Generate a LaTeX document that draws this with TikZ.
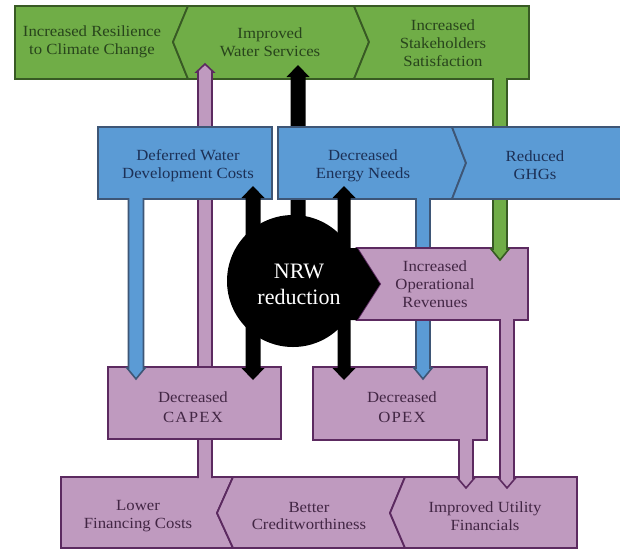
\documentclass[tikz,border=0pt]{standalone}
\usepackage{fontspec}
\setmainfont[FakeStretch=1.08]{Liberation Serif}
\newfontfamily\nrwfont{Liberation Serif}
\definecolor{gfill}{RGB}{112,173,71}
\definecolor{gline}{RGB}{56,90,36}
\definecolor{gtext}{RGB}{40,68,28}
\definecolor{bfill}{RGB}{91,155,213}
\definecolor{bline}{RGB}{62,86,118}
\definecolor{btext}{RGB}{28,48,86}
\definecolor{pfill}{RGB}{191,154,191}
\definecolor{pline}{RGB}{92,42,96}
\definecolor{ptext}{RGB}{66,38,68}
\newcommand\vArrow[8]{%
  \fill[#1] ({#3-#7},#4) -- ({#3-#7},#5) -- ({#3-#8},#5) -- (#3,#6) -- ({#3+#8},#5) -- ({#3+#7},#5) -- ({#3+#7},#4) -- cycle;
  \draw[#2,line width=1.6pt,line join=miter] ({#3-#7},#4) -- ({#3-#7},#5) -- ({#3-#8},#5) -- (#3,#6) -- ({#3+#8},#5) -- ({#3+#7},#5) -- ({#3+#7},#4);}
\newcommand\dArrow[2]{%
  \fill[black] (#1,186) -- ({#1+11.5},198) -- ({#1+#2},198) -- ({#1+#2},368) -- ({#1+11.5},368) -- (#1,380) -- ({#1-11.5},368) -- ({#1-#2},368) -- ({#1-#2},198) -- ({#1-11.5},198) -- cycle;}
\newcommand\spaced[1]{{\addfontfeature{LetterSpace=8}#1}}
\begin{document}
\begin{tikzpicture}[x=1pt,y=-1pt,
  gshape/.style={fill=gfill,draw=gline,line width=1.8pt,line join=miter},
  bshape/.style={fill=bfill,draw=bline,line width=1.8pt,line join=miter},
  pshape/.style={fill=pfill,draw=pline,line width=1.8pt,line join=miter},
  lbl/.style={align=center,inner sep=0pt,font=\fontsize{15.5}{17.8}\selectfont},
  glbl/.style={lbl,text=gtext},
  blbl/.style={lbl,text=btext},
  plbl/.style={lbl,text=ptext},
  pwide/.style={align=center,inner sep=0pt,font=\fontsize{15.5}{20.5}\selectfont,text=ptext}]
\useasboundingbox[fill=white] (0,0) rectangle (620,549);
% green band
\draw[gshape] (15,6) -- (188,6) -- (173,42) -- (188,79) -- (15,79) -- cycle;
\draw[gshape] (188,6) -- (354,6) -- (369,42) -- (354,79) -- (188,79) -- (173,42) -- cycle;
\draw[gshape] (354,6) -- (529,6) -- (529,79) -- (354,79) -- (369,42) -- cycle;
% bottom band
\draw[pshape] (61,477) -- (233,477) -- (217,513) -- (233,548) -- (61,548) -- cycle;
\draw[pshape] (233,477) -- (405,477) -- (390,513) -- (405,548) -- (233,548) -- (217,513) -- cycle;
\draw[pshape] (405,477) -- (577,477) -- (577,548) -- (405,548) -- (390,513) -- cycle;
% arrows behind
\vArrow{pfill}{pline}{205}{478}{72}{64}{7}{8.5}
\fill[black] (290.5,240) -- (290.5,77) -- (286.5,77) -- (298,65) -- (309.5,77) -- (305.5,77) -- (305.5,240) -- cycle;
% capex / opex
\draw[pshape] (108,367) rectangle (281,439);
\draw[pshape] (313,367) rectangle (487,440);
\vArrow{pfill}{pline}{466}{439}{478}{488}{7}{8.5}
% blue band
\draw[bshape] (98,127) rectangle (272,199);
\draw[bshape] (278,127) -- (452,127) -- (466,163) -- (452,199) -- (278,199) -- cycle;
\vArrow{bfill}{bline}{136}{198}{368}{379}{7.5}{9}
\vArrow{bfill}{bline}{423}{198}{368}{379}{7}{9}
% operational revenues
\draw[pshape] (357,248) -- (528,248) -- (528,320) -- (357,320) -- (380,284) -- cycle;
\vArrow{pfill}{pline}{507}{319}{478}{488}{7}{8.5}
\vArrow{gfill}{gline}{500}{78}{249}{260}{7}{9}
\draw[bshape] (452,127) -- (630,127) -- (630,199) -- (452,199) -- (466,163) -- cycle;
% NRW
\dArrow{253}{7.5}
\dArrow{344}{6.5}
\fill[black] (345,248) -- (357,248) -- (380,284) -- (357,320) -- (345,320) -- cycle;
\fill[black] (293,281) circle (66);
% labels
\node[glbl] (res) at (92,42) {Increased Resilience\\to Climate Change};
\node[glbl] (wat) at (270,42) {Improved\\Water Services};
\node[glbl] (stk) at (443,43) {Increased\\Stakeholders\\Satisfaction};
\node[blbl] (def) at (188,166) {Deferred Water\\Development Costs};
\node[blbl] (ene) at (363,166) {Decreased\\Energy Needs};
\node[blbl] (ghg) at (535,165) {Reduced\\GHGs};
\node[plbl] (rev) at (435,284) {Increased\\Operational\\Revenues};
\node[pwide] (cap) at (193,407) {Decreased\\\spaced{CAPEX}};
\node[pwide] (opx) at (402,407) {Decreased\\\spaced{OPEX}};
\node[plbl] (fin) at (138,516) {Lower\\Financing Costs};
\node[plbl] (crd) at (309,516) {Better\\Creditworthiness};
\node[plbl] (uti) at (485,516) {Improved Utility\\Financials};
\node[align=center,inner sep=0pt,text=white,font=\nrwfont\fontsize{22}{26}\selectfont] (nrw) at (299,284) {NRW\\reduction};
\end{tikzpicture}
\end{document}
